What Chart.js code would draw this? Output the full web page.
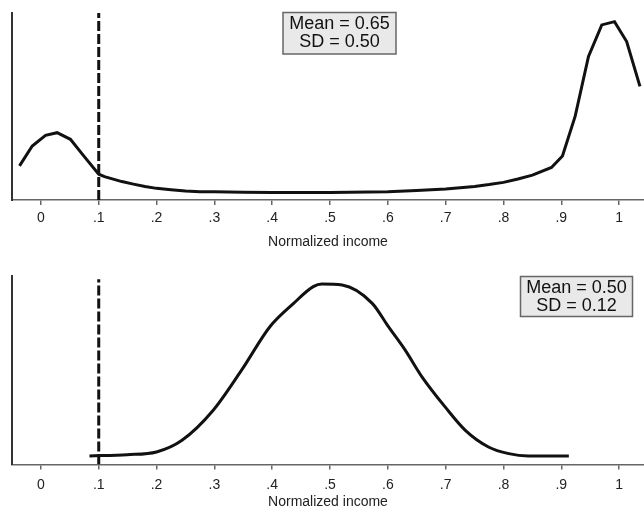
<!DOCTYPE html>
<html>
<head>
<meta charset="utf-8">
<script src="https://cdn.jsdelivr.net/npm/chart.js@4.4.1/dist/chart.umd.min.js"></script>
<style>
  html, body { margin: 0; padding: 0; background: #fff; overflow: hidden; }
  .panel { position: relative; width: 644px; }
  #top { height: 254px; }
  #bottom { height: 260px; }
</style>
</head>
<body>
<div class="panel" id="top"><canvas id="chartTop"></canvas></div>
<div class="panel" id="bottom"><canvas id="chartBottom"></canvas></div>
<script>
// axis ticks shared by both panels
const tickValues = [0, 0.1, 0.2, 0.3, 0.4, 0.5, 0.6, 0.7, 0.8, 0.9, 1];
const tickLabels = ['0', '.1', '.2', '.3', '.4', '.5', '.6', '.7', '.8', '.9', '1'];
const cutoff = 0.1;

// top panel: bimodal density
const topIncome = [-0.037, -0.015, 0.008, 0.028, 0.051, 0.074, 0.100, 0.11, 0.125, 0.14, 0.16, 0.18,
  0.2, 0.225, 0.25, 0.275, 0.3, 0.35, 0.4, 0.5, 0.6, 0.65, 0.7, 0.75, 0.775, 0.8, 0.825, 0.85,
  0.883, 0.902, 0.924, 0.947, 0.970, 0.992, 1.013, 1.036];
const topDensity = [0.73, 1.155, 1.383, 1.44, 1.298, 0.943, 0.553, 0.5, 0.447, 0.394, 0.34, 0.287,
  0.249, 0.217, 0.191, 0.179, 0.177, 0.164, 0.16, 0.16, 0.177, 0.202, 0.234, 0.291, 0.33, 0.377, 0.45, 0.532,
  0.696, 0.943, 1.794, 3.07, 3.745, 3.815, 3.389, 2.432];
const topStats = ['Mean = 0.65', 'SD = 0.50'];

// bottom panel: bell shaped density
const bottomIncome = [0.084, 0.149, 0.2, 0.244, 0.298, 0.347, 0.396, 0.437, 0.471, 0.486, 0.521,
  0.573, 0.601, 0.63, 0.659, 0.699, 0.734, 0.774, 0.809, 0.843, 0.913];
const bottomDensity = [0.179, 0.206, 0.264, 0.511, 1.149, 2.0, 2.923, 3.419, 3.774, 3.83, 3.809,
  3.419, 2.923, 2.426, 1.86, 1.221, 0.723, 0.37, 0.228, 0.179, 0.179];
const bottomStats = ['Mean = 0.50', 'SD = 0.12'];

const FONT = "'Liberation Sans', Arial, Helvetica, sans-serif";

// draws the grey "Mean / SD" box
const statsBox = {
  id: 'statsBox',
  afterDatasetsDraw(chart, args, opts) {
    const ctx = chart.ctx;
    ctx.save();
    ctx.fillStyle = '#e9e9e9';
    ctx.strokeStyle = '#666';
    ctx.lineWidth = 1.5;
    ctx.fillRect(opts.left, opts.top, opts.width, opts.height);
    ctx.strokeRect(opts.left, opts.top, opts.width, opts.height);
    ctx.fillStyle = '#111';
    ctx.font = '18px ' + FONT;
    ctx.textAlign = 'center';
    ctx.textBaseline = 'middle';
    const cx = opts.left + opts.width / 2;
    opts.lines.forEach((t, i) => {
      ctx.fillText(t, cx, opts.top + 12 + i * 17.5);
    });
    ctx.restore();
  }
};

function makeChart(id, xs, ys, cutTop, stats, box, pad, tickPad, titlePad) {
  const curve = xs.map((x, i) => ({ x: x, y: ys[i] }));
  const cutLine = [{ x: cutoff, y: 0 }, { x: cutoff, y: cutTop }];
  return new Chart(document.getElementById(id), {
    type: 'line',
    data: {
      datasets: [
        {
          data: curve,
          borderColor: '#111',
          borderWidth: 3,
          pointRadius: 0,
          tension: 0,
          cubicInterpolationMode: id === 'chartBottom' ? 'monotone' : 'default'
        },
        {
          data: cutLine,
          borderColor: '#111',
          borderWidth: 3,
          borderDash: [10, 3],
          pointRadius: 0
        }
      ]
    },
    options: {
      responsive: true,
      maintainAspectRatio: false,
      animation: false,
      layout: { padding: pad },
      plugins: {
        legend: { display: false },
        tooltip: { enabled: false },
        statsBox: Object.assign({ lines: stats }, box)
      },
      scales: {
        x: {
          type: 'linear',
          min: -0.05,
          max: 1.043,
          afterBuildTicks: (scale) => { scale.ticks = tickValues.map(v => ({ value: v })); },
          ticks: {
            callback: (v, i) => tickLabels[i],
            font: { family: FONT, size: 14 },
            color: '#222',
            padding: tickPad,
            maxRotation: 0,
            autoSkip: false
          },
          grid: { display: true, drawOnChartArea: false, drawTicks: true, tickLength: 5, color: '#666', lineWidth: 1.5 },
          border: { display: true, color: '#666', width: 1.5 },
          title: {
            display: true,
            text: 'Normalized income',
            font: { family: FONT, size: 14 },
            color: '#222',
            padding: titlePad
          }
        },
        y: {
          min: 0,
          max: 4,
          ticks: { display: false },
          grid: { display: false, drawTicks: false },
          border: { display: true, color: '#333', width: 2 }
        }
      }
    },
    plugins: [statsBox]
  });
}

makeChart('chartTop', topIncome, topDensity, 4, topStats,
  { left: 283, top: 12.5, width: 113, height: 41.5 },
  { top: 13, left: 12, right: 0, bottom: 3.4 }, 5, { top: 2, bottom: 0 });

makeChart('chartBottom', bottomIncome, bottomDensity, 3.93, bottomStats,
  { left: 520.5, top: 22.5, width: 112, height: 40 },
  { top: 22, left: 12, right: 0, bottom: 3 }, 7, { top: -6, bottom: 0 });
</script>
</body>
</html>
